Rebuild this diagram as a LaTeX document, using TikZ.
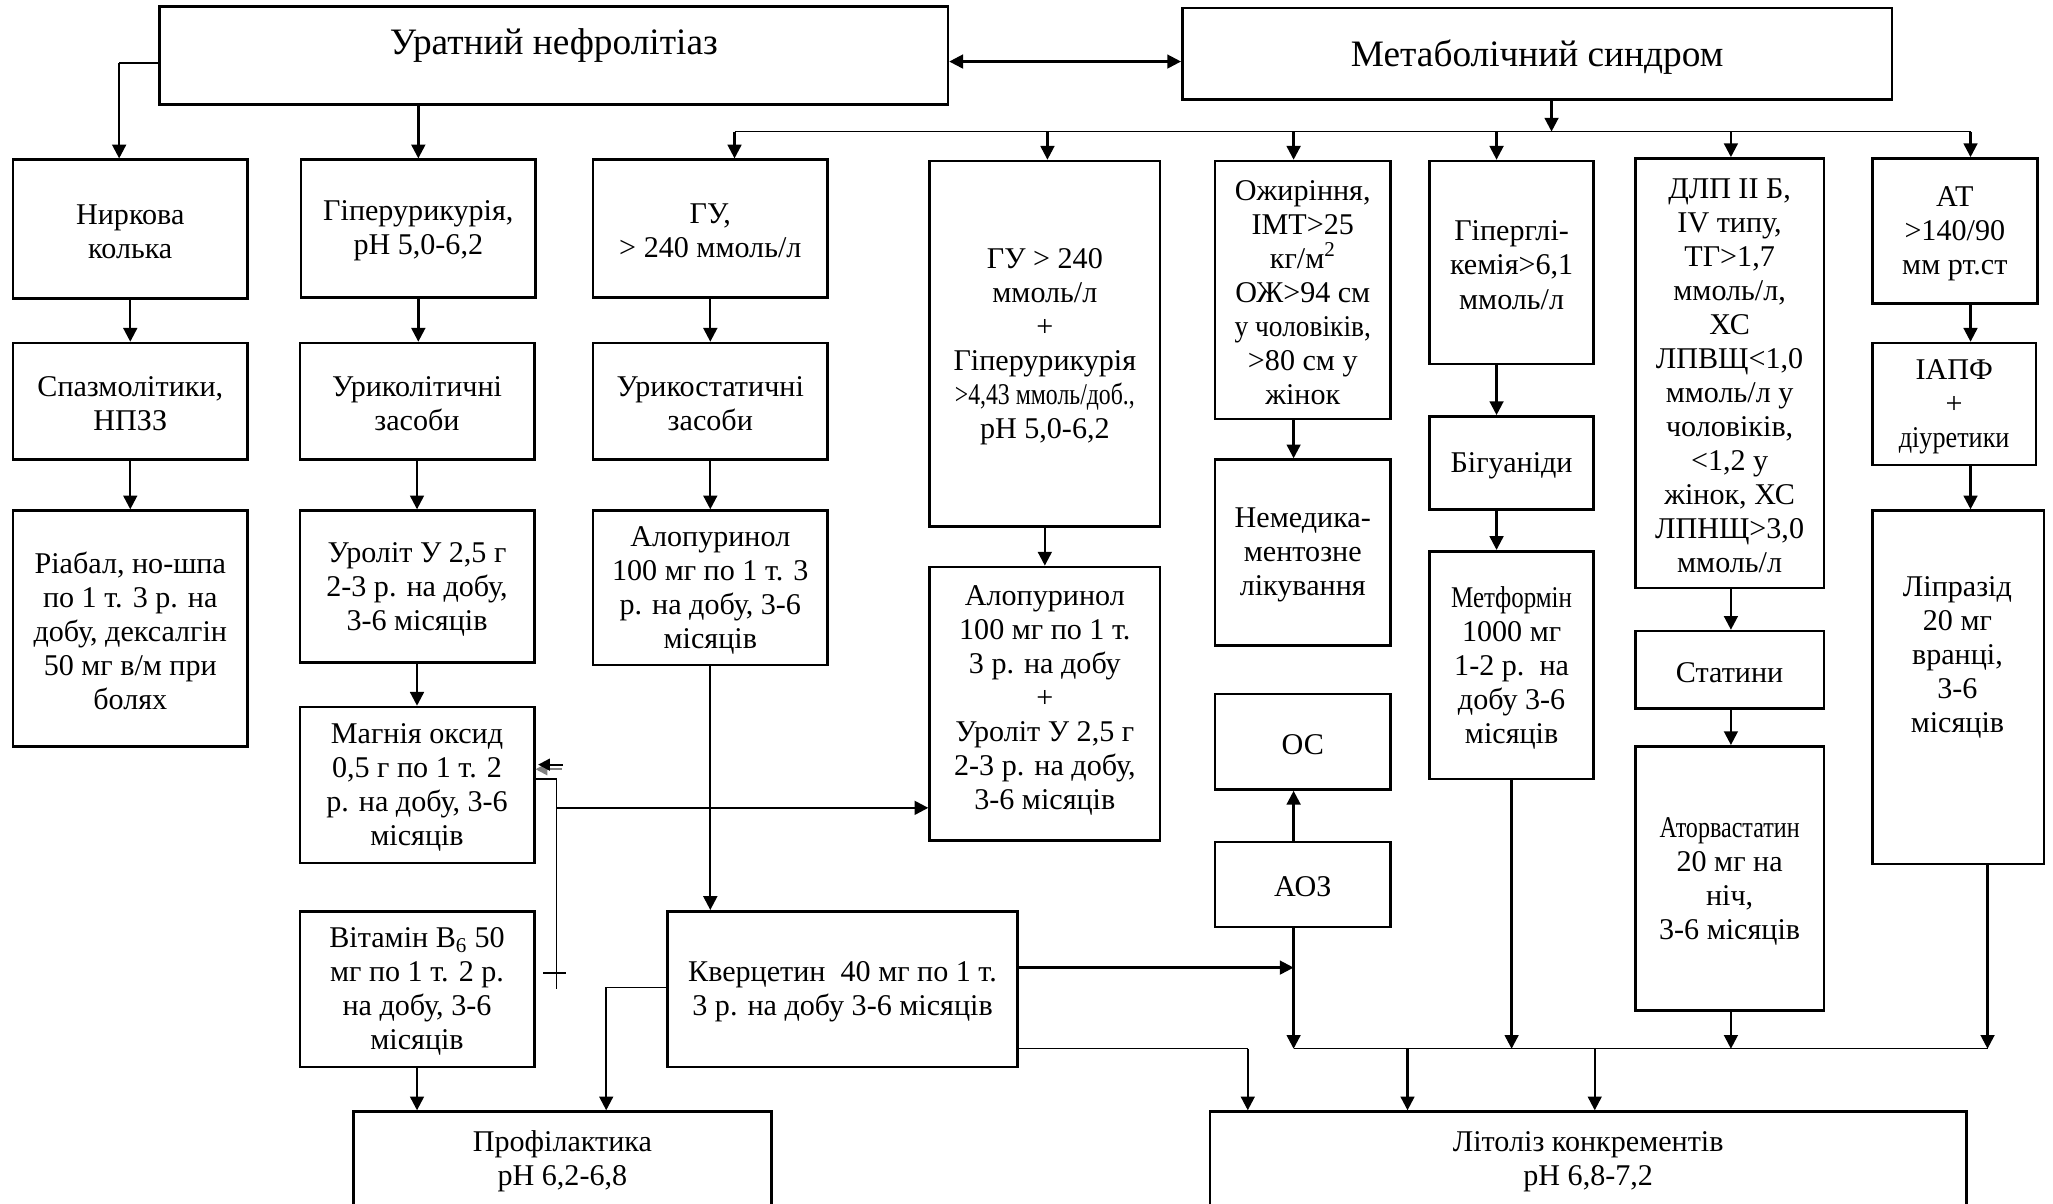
\documentclass[tikz,border=0pt]{standalone}
\usepackage{fontspec}
\setmainfont{Liberation Serif}
\usepackage{graphicx}
\usetikzlibrary{arrows.meta}
\newcommand\bodyfont{\fontsize{23}{26}\selectfont}
\newcommand\titlefont{\fontsize{28.5}{32}\selectfont}
\newcommand\mkbox[6]{\node[box, minimum width={(#4-#2)*1pt}, minimum height={(#5-#3)*1pt}] (#1) at ({(#2+#4)/2},{(#3+#5)/2}) {};
  \node[txt] (#1T) at ({(#2+#4)/2},{(#3+#5)/2+2}) {#6};}
\newcommand\cond[2]{\scalebox{#1}[1]{#2}}
\begin{document}
\begin{tikzpicture}[x=1pt,y=-1pt,
  box/.style={draw, line width=2pt, inner sep=0pt},
  txt/.style={align=center, inner sep=0pt, font=\bodyfont},
  arr/.style={line width=1.8pt, -{Triangle[length=10.5pt,width=10.5pt]}},
  dbl/.style={line width=1.8pt, {Triangle[length=10.5pt,width=10.5pt]}-{Triangle[length=10.5pt,width=10.5pt]}},
  thinln/.style={line width=1.1pt},
  smallarr/.style={line width=1.6pt, -{Triangle[length=9pt,width=9pt]}}]
\useasboundingbox (0,0) rectangle (1568,919);
\clip (0,0) rectangle (1568,919);
% top boxes
\node[box, minimum width=602pt, minimum height=75pt] (urat) at (423,42.5) {};
\node[txt, font=\titlefont] (uratT) at (423,34.5) {Уратний нефролітіаз};
\node[box, minimum width=542pt, minimum height=70pt] (meta) at (1174,41) {};
\node[txt, font=\titlefont] (metaT) at (1174,43.5) {Метаболічний синдром};
% column 1
\mkbox{nyrk}{10}{122}{189}{228}{Ниркова\\колька}
\mkbox{spaz}{10}{262}{189}{351}{Спазмолітики,\\НПЗЗ}
\mkbox{riab}{10}{390}{189}{570}{Ріабал, но-шпа\\по 1 т. 3 р. на\\добу, дексалгін\\50 мг в/м при\\болях}
% column 2
\mkbox{hiper}{230}{122}{409}{227}{Гіперурикурія,\\рН 5,0-6,2}
\mkbox{uryk}{229}{262}{408}{351}{Уриколітичні\\засоби}
\mkbox{urol}{229}{390}{408}{506}{Уроліт У 2,5 г\\2-3 р. на добу,\\3-6 місяців}
\mkbox{magn}{229}{540}{408}{659}{Магнія оксид\\0,5 г по 1 т. 2\\р. на добу, 3-6\\місяців}
\mkbox{vit}{229}{696}{408}{815}{Вітамін В\textsubscript{6} 50\\мг по 1 т. 2 р.\\на добу, 3-6\\місяців}
\mkbox{prof}{270}{849}{589}{921}{Профілактика\\рН 6,2-6,8}
% column 3
\mkbox{gu1}{453}{122}{632}{227}{ГУ,\\> 240 ммоль/л}
\mkbox{urks}{453}{262}{632}{351}{Урикостатичні\\засоби}
\mkbox{alo1}{453}{390}{632}{508}{Алопуринол\\100 мг по 1 т. 3\\р. на добу, 3-6\\місяців}
\mkbox{kverc}{510}{696}{777}{815}{Кверцетин\ \ 40 мг по 1 т.\\3 р. на добу 3-6 місяців}
% column 4
\mkbox{gu2}{710}{123}{886}{402}{ГУ > 240\\ммоль/л\\+\\Гіперурикурія\\\cond{0.79}{>4,43 ммоль/доб.,}\\рН 5,0-6,2}
\node[box, minimum width=176pt, minimum height=209pt] (alo2) at (798,537.5) {};
\node[txt] (alo2T) at (798,535) {Алопуринол\\100 мг по 1 т.\\3 р. на добу\\+\\Уроліт У 2,5 г\\2-3 р. на добу,\\3-6 місяців};
% column 5
\mkbox{ozh}{928}{123}{1062}{320}{Ожиріння,\\ІМТ>25\\кг/м\textsuperscript{2}\\ОЖ>94 см\\\cond{0.91}{у чоловіків,}\\>80 см у\\жінок}
\mkbox{nemed}{928}{351}{1062}{493}{Немедика-\\ментозне\\лікування}
\mkbox{os}{928}{530}{1062}{603}{ОС}
\mkbox{aoz}{928}{643}{1062}{708}{АОЗ}
% column 6
\mkbox{hglik}{1092}{123}{1217}{278}{Гіперглі-\\кемія>6,1\\ммоль/л}
\mkbox{bigu}{1092}{318}{1217}{389}{Бігуаніди}
\mkbox{metf}{1092}{421}{1217}{595}{\cond{0.83}{Метформін}\\1000 мг\\1-2 р.\ \ на\\добу 3-6\\місяців}
% column 7
\mkbox{dlp}{1249}{121}{1393}{449}{ДЛП ІІ Б,\\IV типу,\\ТГ>1,7\\ммоль/л,\\ХС\\ЛПВЩ<1,0\\ммоль/л у\\чоловіків,\\<1,2 у\\жінок, ХС\\ЛПНЩ>3,0\\ммоль/л}
\mkbox{stat}{1249}{482}{1393}{541}{Статини}
\mkbox{atorv}{1249}{570}{1393}{772}{\cond{0.8}{Аторвастатин}\\20 мг на\\ніч,\\3-6 місяців}
% column 8
\mkbox{at}{1430}{121}{1556}{232}{АТ\\>140/90\\мм рт.ст}
\mkbox{iapf}{1430}{262}{1555}{355}{ІАПФ\\+\\\cond{0.87}{діуретики}}
\node[box, minimum width=131pt, minimum height=270pt] (lipr) at (1495.5,525) {};
\node[txt] (liprT) at (1495,502) {Ліпразід\\20 мг\\вранці,\\3-6\\місяців};
% bottom right
\mkbox{lito}{924}{849}{1502}{921}{Літоліз конкрементів\\рН 6,8-7,2}

% ---- connectors: top
\coordinate (uL) at (91,48);
\draw[thinln] (urat.west |- uL) -- (uL);
\draw[arr] (uL) -- (uL |- nyrk.north);
\draw[arr] (urat.south -| hiper.north) -- (hiper.north);
\coordinate (mid) at (0,47);
\draw[dbl] (urat.east |- mid) -- (meta.west |- mid);
\coordinate (mA) at (1185,100.5);
\draw[arr] (meta.south -| mA) -- (mA);
\coordinate (b1) at (561,100.5);
\coordinate (b2) at (800,100.5);
\coordinate (b3) at (988,100.5);
\coordinate (b4) at (1143,100.5);
\coordinate (b5) at (1322,100.5);
\coordinate (b6) at (1505,100.5);
\draw[thinln] (b1) -- (b6);
\draw[arr] (b1) -- (b1 |- gu1.north);
\draw[arr] (b2) -- (b2 |- gu2.north);
\draw[arr] (b3) -- (b3 |- ozh.north);
\draw[arr] (b4) -- (b4 |- hglik.north);
\draw[arr] (b5) -- (b5 |- dlp.north);
\draw[arr] (b6) -- (b6 |- at.north);
% chains
\draw[arr] (nyrk.south) -- (spaz.north);
\draw[arr] (spaz.south) -- (riab.north);
\draw[arr] (hiper.south) -- (hiper.south |- uryk.north);
\draw[arr] (uryk.south) -- (urol.north);
\draw[arr] (urol.south) -- (magn.north);
\draw[arr] (vit.south) -- (vit.south |- prof.north);
\draw[arr] (gu1.south) -- (urks.north);
\draw[arr] (urks.south) -- (alo1.north);
\draw[arr] (alo1.south) -- (alo1.south |- kverc.north);
\draw[arr] (gu2.south) -- (alo2.north);
\draw[arr] (b3 |- ozh.south) -- (b3 |- nemed.north);
\draw[arr] (b3 |- aoz.north) -- (b3 |- os.south);
\draw[arr] (b4 |- hglik.south) -- (b4 |- bigu.north);
\draw[arr] (b4 |- bigu.south) -- (b4 |- metf.north);
\draw[arr] (b5 |- dlp.south) -- (b5 |- stat.north);
\draw[arr] (b5 |- stat.south) -- (b5 |- atorv.north);
\draw[arr] (b6 |- at.south) -- (b6 |- iapf.north);
\draw[arr] (b6 |- iapf.south) -- (b6 |- lipr.north);
% collector
\coordinate (cL) at (988,801);
\coordinate (cR) at (1518,801);
\draw[arr] (aoz.south -| cL) -- (cL);
\draw[arr] (metf.south) -- (metf.south |- cL);
\draw[arr] (atorv.south -| b5) -- (b5 |- cL);
\draw[arr] (lipr.south -| cR) -- (cR);
\draw[thinln] (cL) -- (cR);
\coordinate (l1) at (1075,801);
\coordinate (l2) at (1218,801);
\draw[arr] (l1) -- (l1 |- lito.north);
\draw[arr] (l2) -- (l2 |- lito.north);
% Kvercetyn
\coordinate (k1) at (988,739);
\draw[arr] (kverc.east |- k1) -- (k1);
\coordinate (k2) at (953,801);
\draw[thinln] (kverc.east |- k2) -- (k2);
\draw[arr] (k2) -- (k2 |- lito.north);
\coordinate (k3) at (463,754);
\draw[thinln] (kverc.west |- k3) -- (k3);
\draw[arr] (k3) -- (k3 |- prof.north);
% Magnesium side lines
\coordinate (g1) at (425,595);
\coordinate (g2) at (425,755);
\coordinate (g3) at (425,617);
\draw[thinln] (magn.east |- g1) -- (g1) -- (g2);
\draw[arr] (g3) -- (g3 -| alo2.west);
\coordinate (s1) at (430,584);
\coordinate (s2) at (411,584);
\coordinate (s3) at (429,587.5);
\coordinate (s4) at (409,587.5);
\draw[smallarr, gray] (s3) -- (s4);
\draw[smallarr] (s1) -- (s2);
\coordinate (t1) at (415,743);
\coordinate (t2) at (432,743);
\draw[thinln] (t1) -- (t2);
\end{tikzpicture}
\end{document}
